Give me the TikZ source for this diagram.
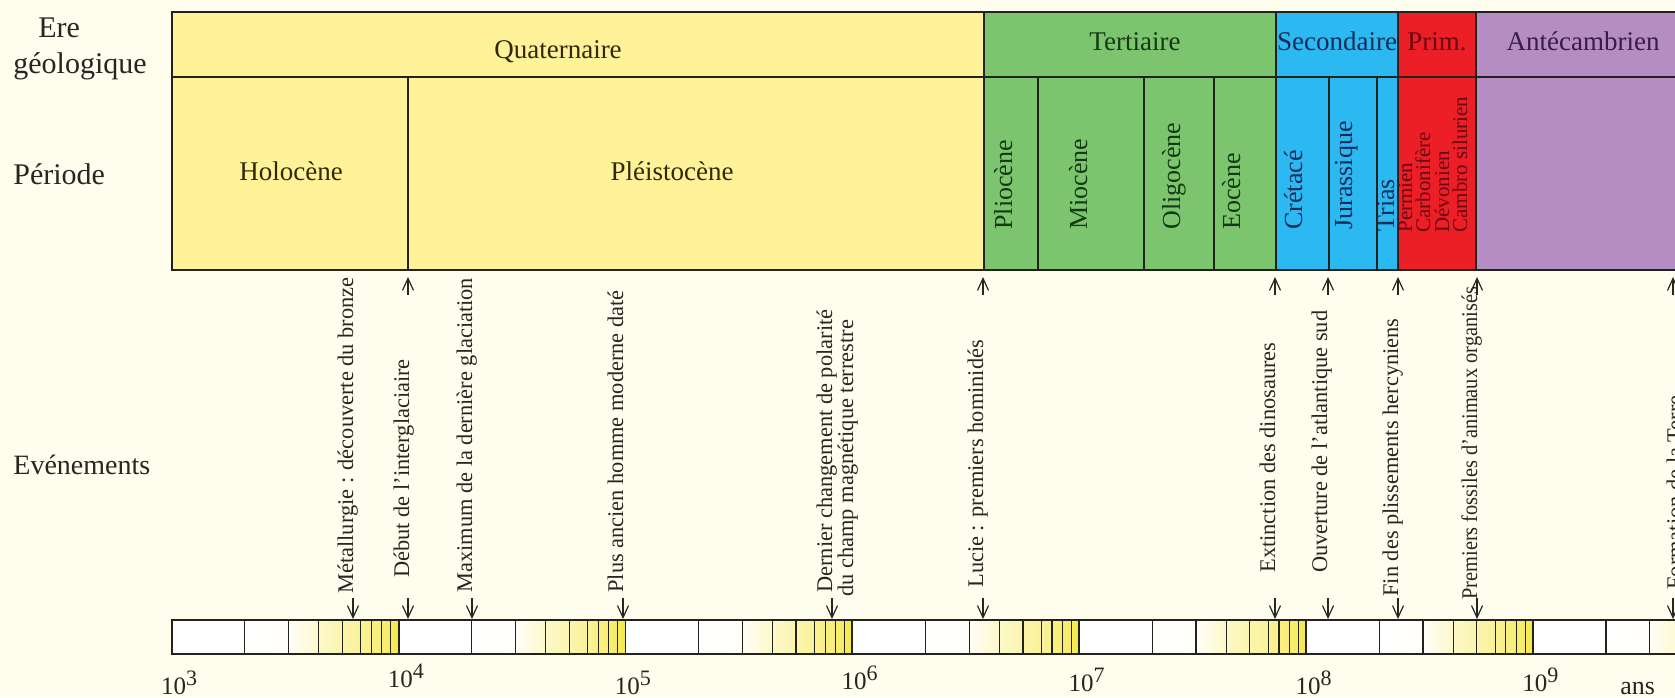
\documentclass[tikz,border=0pt]{standalone}
\usepackage{fontspec}
\setmainfont{Liberation Serif}
\usetikzlibrary{arrows.meta}
\definecolor{bgC}{RGB}{255,253,237}
\definecolor{quatC}{RGB}{255,242,153}
\definecolor{tertC}{RGB}{124,196,110}
\definecolor{secC}{RGB}{44,184,240}
\definecolor{primC}{RGB}{236,30,38}
\definecolor{anteC}{RGB}{182,141,194}
\definecolor{lineC}{RGB}{35,35,30}
\definecolor{quatT}{RGB}{50,40,8}
\definecolor{tertT}{RGB}{20,58,20}
\definecolor{secT}{RGB}{18,45,90}
\definecolor{primT}{RGB}{105,8,18}
\definecolor{anteT}{RGB}{55,28,75}
\definecolor{evT}{RGB}{38,38,34}
\definecolor{barY}{RGB}{244,228,40}
\begin{document}
\begin{tikzpicture}[x=0.5pt,y=-0.5pt,
  tline/.style={draw=lineC,line width=0.8pt},
  heavyline/.style={draw=lineC,line width=1.4pt},
  eralab/.style={font=\fontsize{13.5}{14}\selectfont,inner sep=0pt,anchor=base},
  perlab/.style={font=\fontsize{13.5}{14}\selectfont,inner sep=0pt,anchor=base},
  vperlab/.style={font=\fontsize{13}{14}\selectfont,inner sep=0pt,rotate=90,anchor=base west},
  primlab/.style={font=\fontsize{10.5}{11}\selectfont,inner sep=0pt,rotate=90,anchor=base west,text=primT},
  sidelab/.style={font=\fontsize{15}{16}\selectfont,inner sep=0pt,anchor=base west,text=evT},
  evlab/.style={font=\fontsize{11.2}{12}\selectfont,inner sep=0pt,rotate=90,anchor=base west,text=evT},
  evarrow/.style={draw=evT,line width=0.6pt,-{Straight Barb[length=6pt,width=5.5pt,line width=0.6pt]}},
  scalelab/.style={font=\fontsize{12.5}{12.5}\selectfont,inner sep=0pt,anchor=base,text=evT},
  barcell/.style={draw=lineC,line width=0.6pt}
]
\useasboundingbox (0,0) rectangle (1675,697);
\fill[bgC] (0,0) rectangle (1675,697);
\clip (0,0) rectangle (1675,697);

% ---- table fills
\fill[quatC] (172,12) rectangle (984,270);
\fill[tertC] (984,12) rectangle (1276,270);
\fill[secC] (1276,12) rectangle (1398,270);
\fill[primC] (1398,12) rectangle (1476,270);
\fill[anteC] (1476,12) rectangle (1700,270);
% ---- table lines
\draw[tline] (1700,12) -- (172,12) -- (172,270) -- (1700,270);
\draw[tline] (172,77) -- (1700,77);
\foreach \x in {408,1038,1144,1214,1329,1377} \draw[tline] (\x,77) -- (\x,270);
\foreach \x in {984,1276} \draw[tline] (\x,12) -- (\x,270);
\foreach \x in {1398,1476} \draw[heavyline] (\x,12) -- (\x,270);

% ---- side labels
\node[sidelab] (ere) at (38,37) {Ere};
\node[sidelab] (geol) at (13,73) {géologique};
\node[sidelab] (peri) at (13,184) {Période};
\node[sidelab,font=\fontsize{14}{15}\selectfont] (even) at (13,474) {Evénements};

% ---- era labels
\node[eralab,text=quatT] (quat) at (558,58) {Quaternaire};
\node[eralab,text=tertT] (tert) at (1135,50) {Tertiaire};
\node[eralab,text=secT] (sec) at (1337,50) {Secondaire};
\node[eralab,text=primT] (prim) at (1437,50) {Prim.};
\node[eralab,text=anteT] (ante) at (1583,50) {Antécambrien};

% ---- period labels
\node[perlab,text=quatT] (holo) at (291,180) {Holocène};
\node[perlab,text=quatT] (pleis) at (672,180) {Pléistocène};
\node[vperlab,text=tertT] (plio) at (1012,230) {Pliocène};
\node[vperlab,text=tertT] (mio) at (1087,230) {Miocène};
\node[vperlab,text=tertT] (oligo) at (1180,230) {Oligocène};
\node[vperlab,text=tertT] (eoc) at (1240,230) {Eocène};
\node[vperlab,text=secT] (cret) at (1302,230) {Crétacé};
\node[vperlab,text=secT] (jura) at (1352,230) {Jurassique};
\node[vperlab,text=secT] (trias) at (1394,232) {Trias};
\node[primlab] (perm) at (1412,233) {Permien};
\node[primlab] (carb) at (1430,233) {Carbonifère};
\node[primlab] (devo) at (1449,233) {Dévonien};
\node[primlab] (camb) at (1467,233) {Cambro silurien};

% ---- logarithmic bar
\def\Fl{{0,0.320,0.513,0.646,0.750,0.832,0.878,0.924,0.963,1}}
\def\Pl{{0,0,3,25,38,48,57,65,74,88}}
\foreach \n in {0,...,7}{
  \foreach \k in {1,...,9}{
    \pgfmathsetmacro\xa{172+226.9*\n+227*\Fl[\k-1]}
    \pgfmathsetmacro\xb{172+226.9*\n+227*\Fl[\k]}
    \pgfmathtruncatemacro\pa{\Pl[\k-1]}
    \pgfmathtruncatemacro\pb{\Pl[\k]}
    \shadedraw[barcell,left color=barY!\pa!white,right color=barY!\pb!white] (\xa,620) rectangle (\xb,654);
  }
  \pgfmathsetmacro\xd{172+226.9*\n+227}
  \draw[heavyline] (\xd,620) -- (\xd,654);
}
\foreach \n/\yb in {0/694,1/687,2/694,3/689,4/691,5/694,6/691}{
  \pgfmathsetmacro\xx{172+226.9*\n+7}
  \pgfmathtruncatemacro\ee{\n+3}
  \node[scalelab] (s\n) at (\xx,\yb) {10\raisebox{4.5pt}{\fontsize{11}{11}\selectfont\ee}};
}
\node[scalelab,anchor=base west,font=\fontsize{13}{13}\selectfont] (ans) at (1620,694) {ans};

% ---- events
\node[evlab] (e1) at (353,594) {Métallurgie : découverte du bronze};
\node[evlab] (e2) at (409,578) {Début de l'interglaciaire};
\node[evlab] (e3) at (472,593) {Maximum de la dernière glaciation};
\node[evlab] (e4) at (623,593) {Plus ancien homme moderne daté};
\node[evlab] (e5a) at (832,593) {Dernier changement de polarité};
\node[evlab] (e5b) at (853,597) {du champ magnétique terrestre};
\node[evlab] (e6) at (983,588) {Lucie : premiers hominidés};
\node[evlab] (e7) at (1275,573) {Extinction des dinosaures};
\node[evlab] (e8) at (1327,573) {Ouverture de l'atlantique sud};
\node[evlab] (e9) at (1398,597) {Fin des plissements hercyniens};
\node[evlab] (e10) at (1477,600) {\scalebox{0.91}[1]{Premiers fossiles d'animaux organisés}};
\node[evlab] (e11) at (1682,590) {Formation de la Terre};

% ---- arrows
\foreach \x [count=\i] in {353,408,472,623,832,983,1275,1328,1398,1477,1673}{
  \coordinate (b\i s) at (\x,598);
  \coordinate (b\i e) at (\x,619);
  \draw[evarrow] (b\i s) -- (b\i e);
}
\foreach \x [count=\i] in {408,983,1275,1328,1398,1477,1673}{
  \coordinate (t\i s) at (\x,295);
  \coordinate (t\i e) at (\x,277);
  \draw[evarrow] (t\i s) -- (t\i e);
}
\end{tikzpicture}
\end{document}
